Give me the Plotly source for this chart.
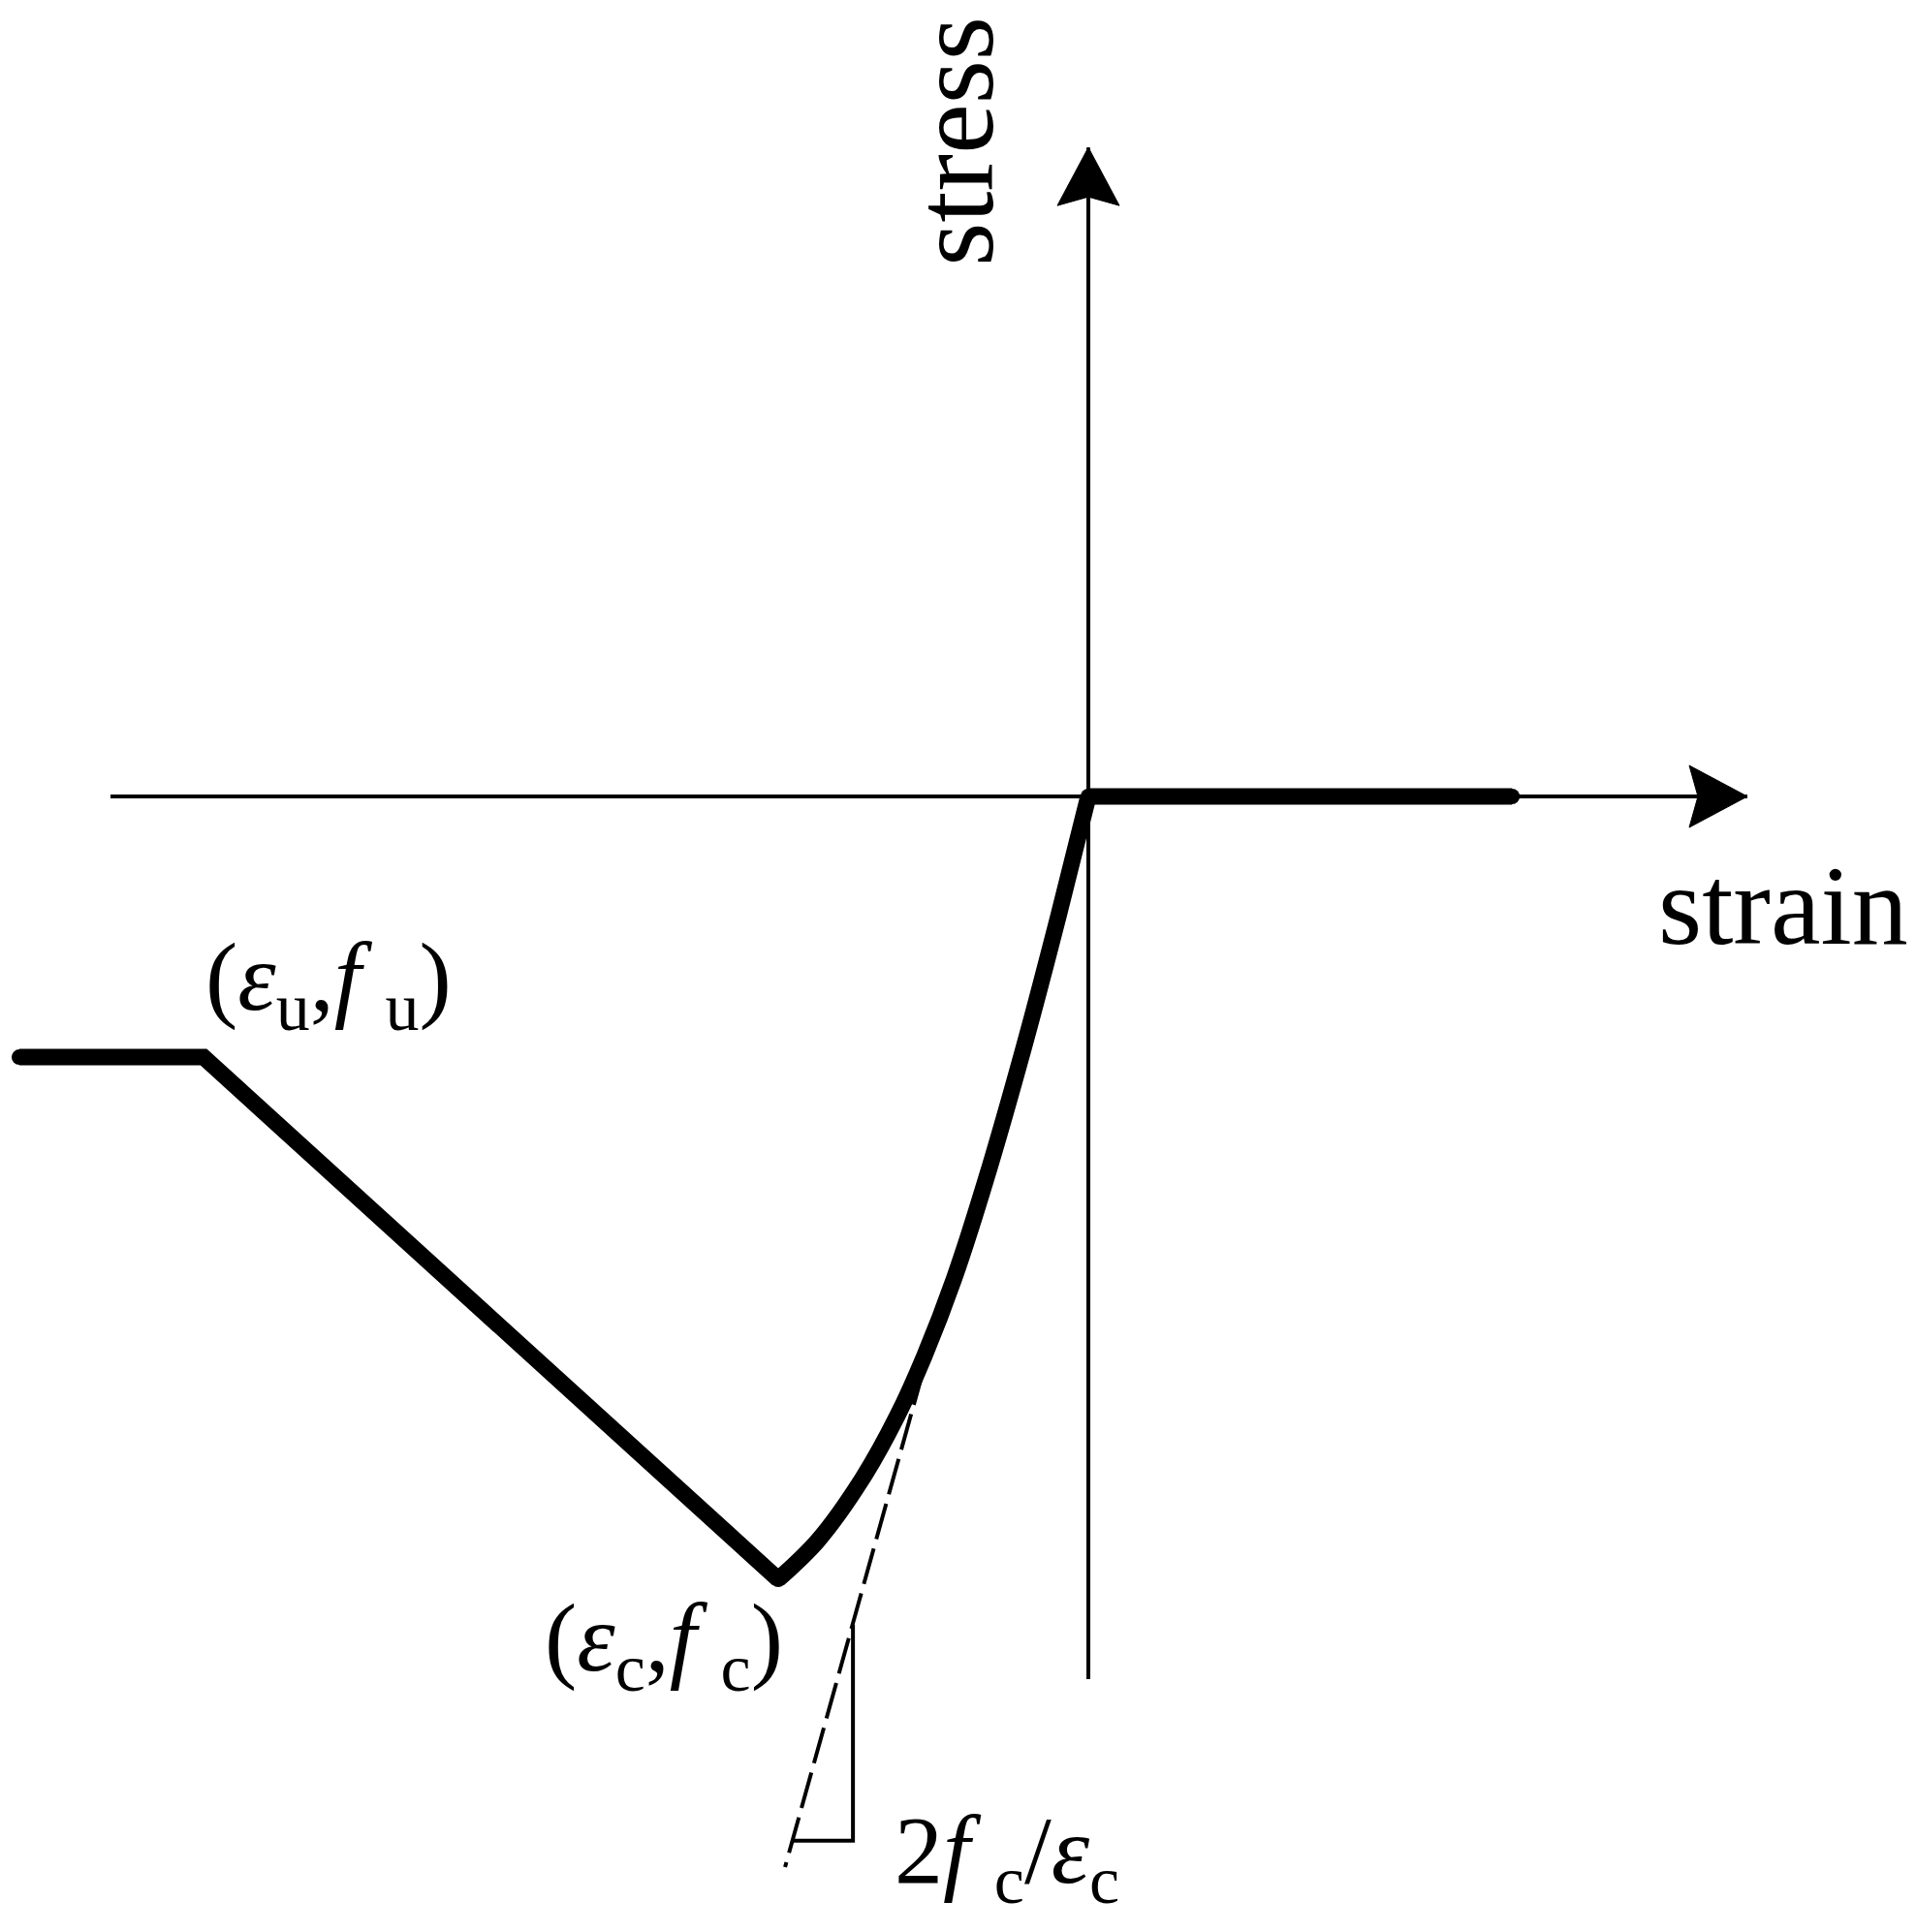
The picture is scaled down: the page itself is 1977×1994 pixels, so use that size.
import plotly.graph_objects as go
import numpy as np

# schematic units: strain in units of eps_c, stress in units of f_c (compression negative)
eps_c, f_c = -1.0, -1.0
eps_u, f_u = -2.853, -0.333
eps_left = -3.447          # end of residual plateau
eps_t_end = 1.366          # end of tension branch (zero stress)

# ascending compression branch
curve_eps = [0.0, -0.096, -0.207, -0.333, -0.433, -0.528, -0.617, -0.728, -0.871, -1.0]
curve_sig = [0.0, -0.152, -0.319, -0.493, -0.616, -0.714, -0.792, -0.871, -0.950, -1.0]

# dashed tangent line and slope triangle
tan_eps = [-0.491, -0.978]
tan_sig = [-0.6745, -1.3676]
tri_eps = [-0.953, -0.759, -0.759]
tri_sig = [-1.334, -1.334, -1.058]

# axes extents
x_axis = [-3.153, 2.125]
y_axis = [-1.1275, 0.829]

W, H = 1977, 1994
PX_X, PX_Y = 320.0, 808.0   # pixels per unit
OX, OY = 1115, 814          # origin inside the plot div (page body adds 8px)
X_RANGE = [-OX / PX_X, (W - OX) / PX_X]
Y_RANGE = [-(H - OY) / PX_Y, OY / PX_Y]

FONT = "Liberation Serif"
BLACK = "#000000"
THICK = 17

fig = go.Figure()

# axes lines
fig.add_trace(go.Scatter(x=x_axis, y=[0, 0], mode="lines",
                         line=dict(color=BLACK, width=4)))
fig.add_trace(go.Scatter(x=[0, 0], y=y_axis, mode="lines",
                         line=dict(color=BLACK, width=4)))


def arrow_head(tx, ty, direction, length=60, half=32, notch=9):
    # filled arrow head with notched base, sizes in pixels
    if direction == "right":
        xs = [tx, tx - length / PX_X, tx - (length - notch) / PX_X, tx - length / PX_X, tx]
        ys = [ty, ty + half / PX_Y, ty, ty - half / PX_Y, ty]
    else:
        xs = [tx, tx + half / PX_X, tx, tx - half / PX_X, tx]
        ys = [ty, ty - length / PX_Y, ty - (length - notch) / PX_Y, ty - length / PX_Y, ty]
    return go.Scatter(x=xs, y=ys, mode="lines", fill="toself", fillcolor=BLACK,
                      line=dict(color=BLACK, width=1))


fig.add_trace(arrow_head(x_axis[1], 0, "right"))
fig.add_trace(arrow_head(0, y_axis[1], "up"))

# dashed tangent + triangle
fig.add_trace(go.Scatter(x=tan_eps, y=tan_sig, mode="lines",
                         line=dict(color=BLACK, width=4, dash="38px,10px")))
fig.add_trace(go.Scatter(x=tri_eps, y=tri_sig, mode="lines",
                         line=dict(color=BLACK, width=4)))

# thick constitutive curve
fig.add_trace(go.Scatter(x=[eps_left, eps_u, eps_c], y=[f_u, f_u, f_c], mode="lines",
                         line=dict(color=BLACK, width=THICK)))
fig.add_trace(go.Scatter(x=curve_eps, y=curve_sig, mode="lines",
                         line=dict(color=BLACK, width=THICK, shape="spline", smoothing=1.0)))
fig.add_trace(go.Scatter(x=[0, eps_t_end], y=[0, 0], mode="lines",
                         line=dict(color=BLACK, width=THICK)))
# round caps / joins
fig.add_trace(go.Scatter(x=[eps_left, eps_u, eps_c, 0, eps_t_end],
                         y=[f_u, f_u, f_c, 0, 0], mode="markers",
                         marker=dict(color=BLACK, size=THICK - 1, line=dict(width=0))))

anno = dict(showarrow=False, font=dict(family=FONT, size=100, color=BLACK),
            xref="x", yref="y")
fig.add_annotation(x=-2.45, y=-0.24,
                   text="(<i>ε</i><sub>u</sub>,<i>f</i> <sub>u</sub>)", **anno)
fig.add_annotation(x=-1.369, y=-1.083,
                   text="(<i>ε</i><sub>c</sub>,<i>f</i> <sub>c</sub>)", **anno)
fig.add_annotation(x=-0.262, y=-1.355,
                   text="2<i>f</i> <sub>c</sub>/<i>ε</i><sub>c</sub>", **anno)
fig.add_annotation(x=2.24, y=-0.14, text="strain",
                   showarrow=False, font=dict(family=FONT, size=116, color=BLACK))
fig.add_annotation(x=-0.431, y=0.837, text="stress", textangle=-90,
                   showarrow=False, font=dict(family=FONT, size=116, color=BLACK))

fig.update_layout(
    width=W, height=H,
    margin=dict(l=0, r=0, t=0, b=0),
    paper_bgcolor="white", plot_bgcolor="white",
    showlegend=False,
    xaxis=dict(range=X_RANGE, visible=False, fixedrange=True),
    yaxis=dict(range=Y_RANGE, visible=False, fixedrange=True),
)

fig.write_html("out.html")
